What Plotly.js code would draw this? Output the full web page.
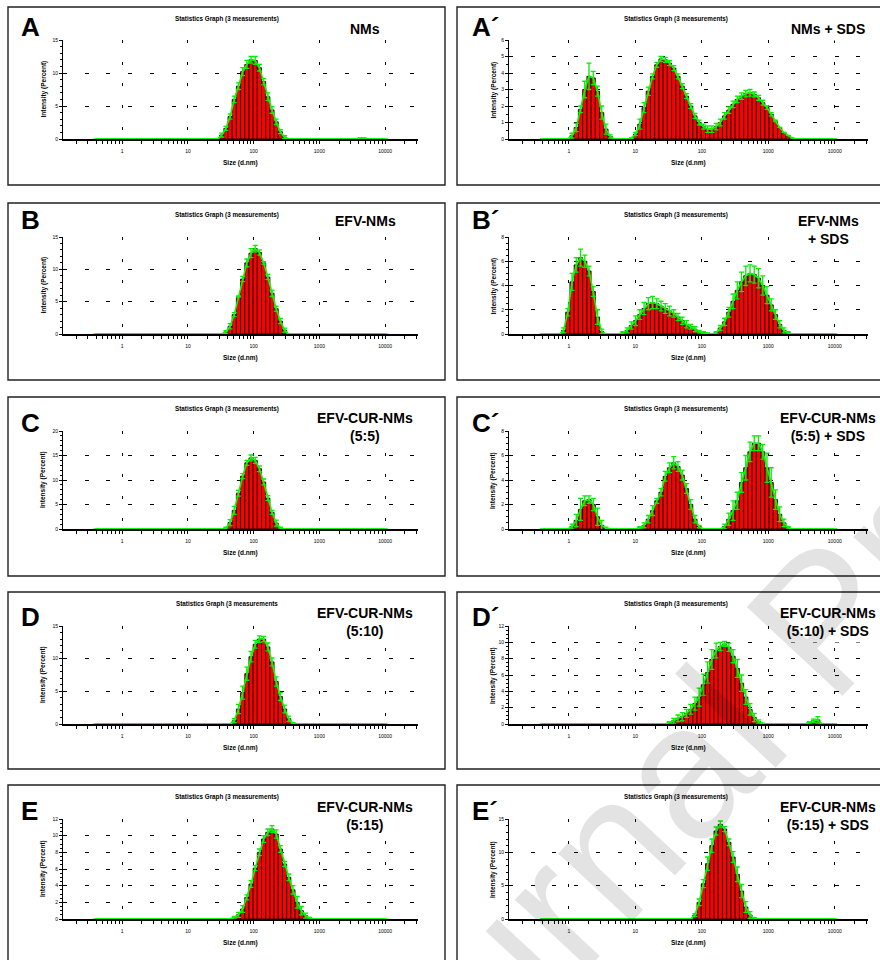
<!DOCTYPE html>
<html>
<head>
<meta charset="utf-8">
<script src="https://cdn.plot.ly/plotly-3.0.1.min.js"></script>
<style>html,body{margin:0;padding:0;background:#fff;}</style>
</head>
<body>
<div id="chart" style="width:880px;height:960px;"></div>
<script>
// Zetasizer size classes (d.nm)
const sizeClasses = [0.4,0.4632,0.5365,0.6213,0.7195,0.8332,0.9649,1.117,1.294,1.499,1.736,2.01,2.328,2.696,3.122,3.615,4.187,4.849,5.615,6.503,7.531,8.721,10.1,11.7,13.54,15.69,18.17,21.04,24.36,28.21,32.67,37.84,43.82,50.75,58.77,68.06,78.82,91.28,105.7,122.4,141.8,164.2,190.1,220.2,255.0,295.3,342.0,396.1,458.7,531.2,615.1,712.4,825.0,955.4,1106,1281,1484,1718,1990,2305,2669,3091,3580,4145,4801,5560,6439,7456,8635,10000];

const xTickVals = [1, 10, 100, 1000, 10000];
const xTickText = ["1", "10", "100", "1000", "10000"];

// A : NMs
const A_start = 32.67;
const A_int = [0.6,1.6,3.4,6.0,8.0,10.2,11.3,12.0,11.9,10.8,8.7,6.4,4.4,2.6,1.1,0.3,0,0,0,0,0,0,0,0,0,0,0,0,0,0,0,0,0,0.1,0.1];
const A_sd  = [0.3,0.3,0.4,0.5,0.5,0.6,0.6,0.5,0.6,0.5,0.5,0.6,0.5,0.4,0.3,0.2,0,0,0,0,0,0,0,0,0,0,0,0,0,0,0,0,0,0.05,0.05];
// A' : NMs + SDS
const A2_start = 1.117;
const A2_int = [0.2,0.7,1.8,3.0,3.8,3.7,2.9,1.6,0.6,0.15,0,0,0,0,0.05,0.3,0.9,1.9,2.9,3.8,4.5,4.85,4.8,4.6,4.3,3.8,3.2,2.6,2.0,1.4,1.0,0.75,0.6,0.6,0.75,1.0,1.4,1.75,2.1,2.4,2.6,2.75,2.8,2.7,2.5,2.2,1.9,1.5,1.1,0.7,0.4,0.2,0.05];
const A2_sd  = [0.15,0.25,0.2,0.5,0.8,0.4,0.3,0.4,0.3,0.1,0,0,0,0,0.02,0.1,0.3,0.3,0.25,0.15,0.15,0.15,0.15,0.15,0.15,0.15,0.15,0.15,0.15,0.15,0.15,0.15,0.2,0.2,0.2,0.2,0.2,0.2,0.2,0.2,0.2,0.2,0.2,0.15,0.15,0.15,0.1,0.1,0.05];
// B : EFV-NMs
const B_start = 37.84;
const B_int = [0.3,1.2,3.0,5.8,8.5,11.0,12.5,13.2,12.6,11.0,8.8,6.3,3.9,2.0,0.6];
const B_sd  = [0.2,0.4,0.3,0.1,0.4,0.6,0.7,0.5,0.4,0.2,0.4,0.5,0.4,0.4,0.3];
// B' : EFV-NMs + SDS
const B2_start = 0.8332;
const B2_int = [0.3,1.8,4.3,5.7,6.3,6.0,5.2,3.5,1.4,0.2,0,0,0,0,0.1,0.3,0.7,1.1,1.6,2.1,2.5,2.6,2.5,2.3,2.1,1.9,1.7,1.4,1.1,0.8,0.6,0.4,0.2,0.1,0.05,0,0.1,0.5,1.0,1.8,2.7,3.6,4.3,4.8,5.0,4.9,4.6,4.0,3.2,2.4,1.6,0.8,0.3,0.1];
const B2_sd  = [0.2,0.3,0.7,0.6,0.7,0.5,0.4,0.4,0.6,0.2,0,0,0,0,0.1,0.2,0.3,0.4,0.4,0.5,0.5,0.5,0.4,0.4,0.4,0.4,0.3,0.3,0.3,0.3,0.2,0.2,0.1,0.1,0.05,0,0.1,0.2,0.3,0.4,0.6,0.7,0.8,0.8,0.7,0.7,0.8,0.8,0.7,0.5,0.4,0.3,0.2,0.1];
// C : EFV-CUR-NMs (5:5)
const C_start = 37.84;
const C_int = [0.2,1.3,3.8,7.3,10.8,13.5,14.5,14.0,12.3,9.6,6.3,3.4,1.2,0.2];
const C_sd  = [0.2,0.6,0.8,0.6,0.5,0.5,0.6,0.6,0.6,0.6,0.5,0.4,0.6,0.2];
// C' : EFV-CUR-NMs (5:5) + SDS
const C2_start = 1.117;
const C2_int = [0.2,0.7,1.6,2.3,2.4,2.0,1.0,0.3,0.05,0,0,0,0,0,0,0,0.1,0.3,0.8,1.5,2.3,3.0,4.3,5.0,5.4,5.1,4.4,3.3,2.0,0.8,0.2,0,0,0,0,0,0.2,0.8,1.5,2.3,3.8,5.0,6.3,7.0,7.0,6.3,5.0,3.8,2.4,1.2,0.5,0.1];
const C2_sd  = [0.2,0.5,0.9,0.4,0.3,0.5,0.7,0.4,0.1,0,0,0,0,0,0,0,0.1,0.2,0.3,0.4,0.2,0.3,0.4,0.4,0.5,0.4,0.4,0.4,0.4,0.3,0.1,0,0,0,0,0,0.2,0.5,0.8,0.7,0.8,1.0,0.8,0.6,0.6,0.6,1.2,1.2,0.8,0.6,0.3,0.1];
// D : EFV-CUR-NMs (5:10)
const D_start = 50.75;
const D_int = [0.5,2.3,4.8,7.7,10.3,12.2,13.0,13.0,11.8,9.5,6.5,4.2,2.3,0.8,0.1];
const D_sd  = [0.3,0.7,1.0,1.0,0.8,0.6,0.5,0.4,0.6,0.6,0.7,0.6,0.6,0.4,0.1];
// D' : EFV-CUR-NMs (5:10) + SDS
const D2_start = 32.67;
const D2_int = [0.2,0.4,0.7,0.9,1.3,1.8,2.5,3.3,4.8,6.3,7.9,9.0,9.5,9.8,9.4,8.3,6.8,5.0,3.3,1.8,0.8,0.3,0.05,0,0,0,0,0,0,0,0,0,0,0.2,0.4,0.5];
const D2_sd  = [0.1,0.3,0.4,0.5,0.5,0.6,0.8,1.1,1.3,1.3,1.2,0.9,0.5,0.3,0.5,0.8,1.1,1.0,0.9,0.7,0.5,0.2,0.05,0,0,0,0,0,0,0,0,0,0,0.1,0.2,0.4];
// E : EFV-CUR-NMs (5:15)
const E_start = 50.75;
const E_int = [0.2,0.5,1.2,2.6,4.2,6.1,8.0,9.6,10.4,10.8,10.2,8.4,6.6,5.0,3.5,2.0,1.0,0.4,0.1];
const E_sd  = [0.1,0.3,0.4,0.3,0.4,0.3,0.4,0.4,0.4,0.4,0.5,0.4,0.3,0.4,0.5,0.7,0.5,0.3,0.1];
// E' : EFV-CUR-NMs (5:15) + SDS
const E2_start = 78.82;
const E2_int = [0.6,2.5,5.3,8.3,11.0,13.2,14.2,13.5,11.5,9.3,6.7,4.2,1.8,0.6,0.1];
const E2_sd  = [0.2,0.5,0.6,1.0,1.0,0.6,0.5,0.4,0.5,0.8,1.1,1.0,0.8,0.5,0.1];

const panelLetters = ["A","A\u00B4","B","B\u00B4","C","C\u00B4","D","D\u00B4","E","E\u00B4"];
const panelNames = ["NMs","NMs + SDS","EFV-NMs","EFV-NMs<br>+ SDS","EFV-CUR-NMs<br>(5:5)","EFV-CUR-NMs<br>(5:5) + SDS","EFV-CUR-NMs<br>(5:10)","EFV-CUR-NMs<br>(5:10) + SDS","EFV-CUR-NMs<br>(5:15)","EFV-CUR-NMs<br>(5:15) + SDS"];
const graphTitles = ["Statistics Graph (3 measurements)","Statistics Graph (3 measurements)","Statistics Graph (3 measurements)","Statistics Graph (3 measurements)","Statistics Graph (3 measurements)","Statistics Graph (3 measurements)","Statistics Graph (3 measurements","Statistics Graph (3 measurements)","Statistics Graph (3 measurements)","Statistics Graph (3 measurements)"];
const yMax  = [15,6,15,8,20,8,15,12,12,15];
const yStep = [5,1,5,2,5,2,5,2,2,5];
const yMinor= [1,0.5,1,0.5,1,0.5,1,0.5,0.5,1];
const xTitle = "Size (d.nm)";
const yTitle = "Intensity (Percent)";
const watermark = "Journal Pre-proof";

const panels = [
  [A_start,A_int,A_sd],[A2_start,A2_int,A2_sd],
  [B_start,B_int,B_sd],[B2_start,B2_int,B2_sd],
  [C_start,C_int,C_sd],[C2_start,C2_int,C2_sd],
  [D_start,D_int,D_sd],[D2_start,D2_int,D2_sd],
  [E_start,E_int,E_sd],[E2_start,E2_int,E2_sd]
];

// ---- geometry (pixels) ----
const W = 880, H = 960;
const px = v => v / W, py = v => 1 - v / H;
const colX = [[63,418],[509,868]];
const rowY = [[40,139],[237,334],[431,529],[626,724],[819,919]];
const boxX = [[8,445],[457,884]];
const boxY = [[7,185],[203,380],[397,576],[592,769],[785,964]];
const letterOff = [3,0,9,8,9];
const nameOff = [12,8,11,11,12];
const FONT = "Liberation Sans, Arial, sans-serif";

function expand(start, vals) {
  const out = sizeClasses.map(() => 0);
  const i0 = sizeClasses.indexOf(start);
  vals.forEach((v, j) => { if (i0 + j < out.length) out[i0 + j] = v; });
  return out;
}
function edges(i) {
  const s = sizeClasses;
  const lo = i > 0 ? Math.sqrt(s[i-1]*s[i]) : s[i]*s[i]/Math.sqrt(s[i]*s[i+1]);
  const hi = i < s.length-1 ? Math.sqrt(s[i]*s[i+1]) : s[i]*s[i]/Math.sqrt(s[i-1]*s[i]);
  return [lo, hi];
}

const data = [];
const layout = {
  width: W, height: H,
  margin: {l:0,r:0,t:0,b:0},
  paper_bgcolor: "#ffffff", plot_bgcolor: "rgba(0,0,0,0)",
  showlegend: false, bargap: 0,
  font: {family: FONT, color: "#000"},
  annotations: [], shapes: []
};

panels.forEach((p, k) => {
  const row = Math.floor(k/2), col = k % 2;
  const n = k === 0 ? "" : String(k+1);
  const xa = "x" + n, ya = "y" + n;
  const intensity = expand(p[0], p[1]);
  const sd = expand(p[0], p[2]);

  const bx = [], by = [], bw = [], bo = [];
  intensity.forEach((v, i) => {
    if (v > 0) {
      const e = edges(i);
      bx.push(sizeClasses[i]); by.push(v);
      bo.push(e[0] - sizeClasses[i]); bw.push(e[1] - e[0]);
    }
  });
  data.push({
    type: "bar", x: bx, y: by, width: bw, offset: bo,
    xaxis: xa, yaxis: ya,
    marker: {color: "#ff0000", line: {color: "#000", width: 0.8}},
    hoverinfo: "skip"
  });
  data.push({
    type: "scatter", mode: "lines", x: sizeClasses, y: intensity,
    xaxis: xa, yaxis: ya,
    line: {color: "#00ff00", width: 1.6},
    error_y: {type: "data", array: sd, visible: true, color: "#00ee00", thickness: 1.3, width: 2.5},
    hoverinfo: "skip"
  });

  layout["xaxis" + n] = {
    domain: [px(colX[col][0]), px(colX[col][1])],
    anchor: ya, type: "log", range: [-0.9, 4.5],
    tickmode: "array", tickvals: xTickVals, ticktext: xTickText,
    ticks: "outside", ticklen: 3, tickwidth: 1, tickcolor: "#000",
    tickfont: {size: 5, color: "#000", family: FONT},
    ticklabelstandoff: 3,
    showline: true, linecolor: "#000", linewidth: 1.5, layer: "below traces",
    showgrid: true, gridcolor: "#000", gridwidth: 1, griddash: "3px,18.7px",
    zeroline: false, fixedrange: true,
    minor: {tickmode: "linear", dtick: "D1", ticks: "outside", ticklen: 3, tickwidth: 1, tickcolor: "#000", showgrid: false}
  };
  layout["yaxis" + n] = {
    domain: [py(rowY[row][1]), py(rowY[row][0])],
    anchor: xa, range: [0, yMax[k]],
    tickmode: "linear", tick0: 0, dtick: yStep[k],
    ticks: "outside", ticklen: 3, tickwidth: 1, tickcolor: "#000",
    tickfont: {size: 5, color: "#000", family: FONT},
    showline: true, linecolor: "#000", linewidth: 1,
    showgrid: true, gridcolor: "#000", gridwidth: 1, griddash: "4px,17.7px",
    zeroline: false, fixedrange: true,
    minor: {tickmode: "linear", tick0: 0, dtick: yMinor[k], ticks: "outside", ticklen: 2, tickwidth: 1, tickcolor: "#000", showgrid: false}
  };

  // panel frame
  layout.shapes.push({
    type: "rect", xref: "paper", yref: "paper", layer: "below",
    x0: px(boxX[col][0]), x1: px(boxX[col][1]),
    y0: py(boxY[row][1]), y1: py(boxY[row][0]),
    line: {color: "#222", width: 1.4}, fillcolor: "rgba(0,0,0,0)"
  });

  const cx = (colX[col][0] + colX[col][1]) / 2;
  // panel letter
  layout.annotations.push({
    xref: "paper", yref: "paper", x: px(col ? 470 : 19), y: py(boxY[row][0] + letterOff[row]),
    xanchor: "left", yanchor: "top", showarrow: false,
    text: panelLetters[k], font: {size: 26, weight: 700, family: FONT, color: "#000"}
  });
  // sample name (white box hides the grid behind it, as in the original)
  layout.annotations.push({
    xref: "paper", yref: "paper", x: px(col ? 828 : 365), y: py(boxY[row][0] + nameOff[row] - 2),
    xanchor: "center", yanchor: "top", align: "center", showarrow: false,
    bgcolor: "#ffffff", borderpad: 3,
    text: panelNames[k], font: {size: 14, weight: 700, family: FONT, color: "#000"}
  });
  // graph title
  layout.annotations.push({
    xref: "paper", yref: "paper", x: px(col ? 676 : 227), y: py(boxY[row][0] + 12),
    xanchor: "center", yanchor: "middle", showarrow: false,
    text: graphTitles[k], font: {size: 6.3, weight: 700, family: FONT, color: "#000"}
  });
  // x title
  layout.annotations.push({
    xref: "paper", yref: "paper", x: px(cx), y: py(rowY[row][1] + 24),
    xanchor: "center", yanchor: "middle", showarrow: false,
    text: xTitle, font: {size: 6.5, weight: 700, family: FONT, color: "#000"}
  });
  // y title
  layout.annotations.push({
    xref: "paper", yref: "paper", x: px(col ? 493 : 43), y: py((rowY[row][0] + rowY[row][1]) / 2),
    xanchor: "center", yanchor: "middle", showarrow: false, textangle: -90,
    text: yTitle, font: {size: 6.5, weight: 700, family: FONT, color: "#000"}
  });
});

// watermark
layout.annotations.push({
  xref: "paper", yref: "paper", x: px(823), y: py(620),
  xanchor: "center", yanchor: "middle", showarrow: false, textangle: -47,
  text: watermark, font: {size: 190, family: FONT, color: "rgba(0,0,0,0.11)"}
});

Plotly.newPlot("chart", data, layout, {staticPlot: true, displayModeBar: false});
</script>
</body>
</html>
